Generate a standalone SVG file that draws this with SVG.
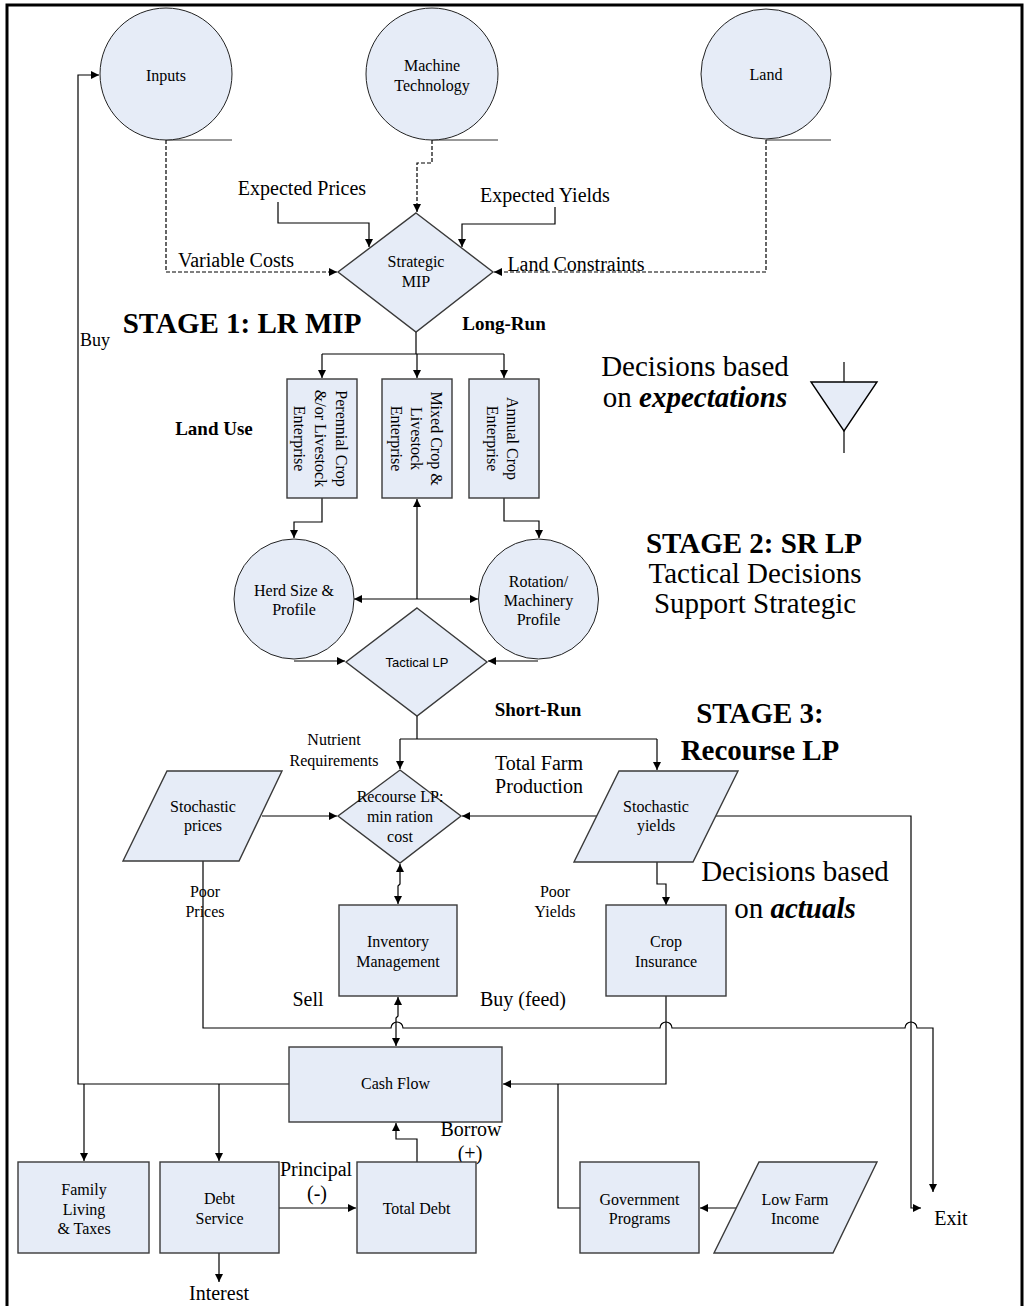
<svg xmlns="http://www.w3.org/2000/svg" width="1027" height="1306" viewBox="0 0 1027 1306">
<defs>
<marker id="ar" viewBox="0 0 10 10" refX="10" refY="5" markerWidth="9" markerHeight="8" markerUnits="userSpaceOnUse" orient="auto-start-reverse">
<path d="M0,0 L10,5 L0,10 z" fill="#000"/>
</marker>
</defs>
<style>
.nd{fill:#e6ecf7;stroke:#3a3a3a;stroke-width:1.4}
.ci{fill:#e6ecf7;stroke:#222;stroke-width:1}
.ln{fill:none;stroke:#000;stroke-width:1.2}
.ds{stroke-dasharray:4 2}
.gr{fill:none;stroke:#777;stroke-width:1.6}
text{font-family:"Liberation Serif","Times New Roman",serif;fill:#000;text-anchor:middle}
.s16{font-size:16px}
.s20{font-size:20px}
.big{font-size:29px}
.b{font-weight:bold}
.bl{font-size:19px;font-weight:bold}
.sans{font-family:"Liberation Sans",Arial,sans-serif;font-size:13px}
</style>
<rect width="1027" height="1306" fill="#fff"/>
<path d="M7,1310 V5 H1022 V1310" fill="none" stroke="#000" stroke-width="3"/>

<g id="connectors">
<path class="gr" d="M166,140 H232 M432,140 H498 M766,140 H831"/>
<path class="ln ds" d="M166,140 V272 H337" marker-end="url(#ar)"/>
<path class="ln ds" d="M432,140 V163 H417 V212" marker-end="url(#ar)"/>
<path class="ln ds" d="M766,140 V272 H494" marker-end="url(#ar)"/>
<path class="ln" d="M278,202 V223 H369 V247" marker-end="url(#ar)"/>
<path class="ln" d="M555,207 V224 H462 V247" marker-end="url(#ar)"/>
<path class="ln" d="M416,332 V354 M322,354 H504"/>
<path class="ln" d="M322,354 V378" marker-end="url(#ar)"/>
<path class="ln" d="M417,354 V378" marker-end="url(#ar)"/>
<path class="ln" d="M504,354 V378" marker-end="url(#ar)"/>
<path class="ln" d="M322,498 V522 H294 V538" marker-end="url(#ar)"/>
<path class="ln" d="M504,498 V521 H539 V538" marker-end="url(#ar)"/>
<path class="ln" d="M417,599 V499" marker-end="url(#ar)"/>
<path class="ln" d="M417,599 H354" marker-end="url(#ar)"/>
<path class="ln" d="M417,599 H478" marker-end="url(#ar)"/>
<path class="ln" d="M294,661 H345" marker-end="url(#ar)"/>
<path class="ln" d="M538,661 H488" marker-end="url(#ar)"/>
<path class="ln" d="M417,716 V739 M400,739 H657"/>
<path class="ln" d="M400,739 V769" marker-end="url(#ar)"/>
<path class="ln" d="M657,739 V770" marker-end="url(#ar)"/>
<path class="ln" d="M262,816 H337" marker-end="url(#ar)"/>
<path class="ln" d="M597,816 H462" marker-end="url(#ar)"/>
<path class="ln" d="M716,816 H911 V1208 H921" marker-end="url(#ar)"/>
<path class="ln" d="M657,862 V884 H666 V905" marker-end="url(#ar)"/>
<path class="ln" d="M400,864 V884 L398,886 V904" marker-start="url(#ar)" marker-end="url(#ar)"/>
<path class="ln" d="M398,997 V1016 L396,1018 V1046" marker-start="url(#ar)" marker-end="url(#ar)"/>
<path class="ln" d="M203,861 V1028 H391 a6,6 0 0 1 12,0 H660 a6,6 0 0 1 12,0 H905 a6,6 0 0 1 12,0 H933 V1192" marker-end="url(#ar)"/>
<path class="ln" d="M666,996 V1084 H503" marker-end="url(#ar)"/>
<path class="ln" d="M580,1208 H558 V1084"/>
<path class="ln" d="M289,1084 H78 V75 H99" marker-end="url(#ar)"/>
<path class="ln" d="M84,1084 V1161" marker-end="url(#ar)"/>
<path class="ln" d="M219,1084 V1161" marker-end="url(#ar)"/>
<path class="ln" d="M279,1208 H356" marker-end="url(#ar)"/>
<path class="ln" d="M417,1162 V1139 H396 V1123" marker-end="url(#ar)"/>
<path class="ln" d="M219,1253 V1282" marker-end="url(#ar)"/>
<path class="ln" d="M736,1208 H700" marker-end="url(#ar)"/>
<path class="ln" d="M844,362 V382 M844,431 V453"/>
</g>

<g id="inputs"><circle class="ci" cx="166" cy="74" r="66"/><text class="s16" x="166" y="81">Inputs</text></g>
<g id="machine"><circle class="ci" cx="432" cy="74" r="66"/><text class="s16" x="432" y="71">Machine</text><text class="s16" x="432" y="91">Technology</text></g>
<g id="land"><circle class="ci" cx="766" cy="74" r="65"/><text class="s16" x="766" y="80">Land</text></g>

<g id="labels-top">
<text class="s20" x="302" y="195">Expected Prices</text>
<text class="s20" x="545" y="202">Expected Yields</text>
<text class="s20" x="236" y="267">Variable Costs</text>
<text class="s20" x="576" y="271">Land Constraints</text>
</g>

<g id="strategic"><path class="nd" d="M416,213 L493,272 L416,332 L338,272 Z"/><text class="s16" x="416" y="267">Strategic</text><text class="s16" x="416" y="287">MIP</text></g>

<text class="big b" x="242" y="333">STAGE 1: LR MIP</text>
<text class="bl" x="504" y="330">Long-Run</text>
<text class="bl" x="214" y="435">Land Use</text>

<g id="perennial"><rect class="nd" x="287" y="379" width="70" height="119"/>
<g transform="translate(322,438.5) rotate(90)"><text class="s16" y="-14">Perennial Crop</text><text class="s16" y="7">&amp;/or Livestock</text><text class="s16" y="28">Enterprise</text></g></g>
<g id="mixed"><rect class="nd" x="382" y="379" width="70" height="119"/>
<g transform="translate(417,438.5) rotate(90)"><text class="s16" y="-14">Mixed Crop &amp;</text><text class="s16" y="6">Livestock</text><text class="s16" y="26">Enterprise</text></g></g>
<g id="annual"><rect class="nd" x="469" y="379" width="70" height="119"/>
<g transform="translate(504,438.5) rotate(90)"><text class="s16" y="-3">Annual Crop</text><text class="s16" y="17">Enterprise</text></g></g>

<g id="expectations-note">
<text class="big" x="695" y="376">Decisions based</text>
<text class="big" x="695" y="407">on <tspan font-weight="bold" font-style="italic">expectations</tspan></text>
<path class="nd" d="M811,382 H877 L844,431 Z" style="stroke:#000"/>
</g>

<text class="big b" x="754" y="553">STAGE 2: SR LP</text>
<text class="big" x="755" y="583">Tactical Decisions</text>
<text class="big" x="755" y="613">Support Strategic</text>

<g id="herd"><circle class="ci" cx="294" cy="599" r="60"/><text class="s16" x="294" y="596">Herd Size &amp;</text><text class="s16" x="294" y="615">Profile</text></g>
<g id="rotation"><circle class="ci" cx="538.5" cy="599" r="60"/><text class="s16" x="538.5" y="587">Rotation/</text><text class="s16" x="538.5" y="606">Machinery</text><text class="s16" x="538.5" y="625">Profile</text></g>
<g id="tactical"><path class="nd" d="M417,608 L487,662 L417,716 L346,662 Z"/><text class="sans" x="417" y="667">Tactical LP</text></g>

<text class="bl" x="538" y="716">Short-Run</text>
<text class="big b" x="760" y="723">STAGE 3:</text>
<text class="big b" x="760" y="760">Recourse LP</text>

<text class="s16" x="334" y="745">Nutrient</text>
<text class="s16" x="334" y="766">Requirements</text>
<text class="s20" x="539" y="770">Total Farm</text>
<text class="s20" x="539" y="793">Production</text>

<g id="prices"><path class="nd" d="M167,771 H282 L239,861 H123 Z"/><text class="s16" x="203" y="812">Stochastic</text><text class="s16" x="203" y="831">prices</text></g>
<g id="recourse"><path class="nd" d="M400,770 L461,816 L400,863 L338,816 Z"/><text class="s16" x="400" y="802">Recourse LP:</text><text class="s16" x="400" y="822">min ration</text><text class="s16" x="400" y="842">cost</text></g>
<g id="yields"><path class="nd" d="M619,771 H738 L693,862 H574 Z"/><text class="s16" x="656" y="812">Stochastic</text><text class="s16" x="656" y="831">yields</text></g>

<text class="s16" x="205" y="897">Poor</text>
<text class="s16" x="205" y="917">Prices</text>
<text class="s16" x="555" y="897">Poor</text>
<text class="s16" x="555" y="917">Yields</text>
<text class="big" x="795" y="881">Decisions based</text>
<text class="big" x="795" y="918">on <tspan font-weight="bold" font-style="italic">actuals</tspan></text>

<g id="inventory"><rect class="nd" x="339" y="905" width="118" height="91"/><text class="s16" x="398" y="947">Inventory</text><text class="s16" x="398" y="967">Management</text></g>
<g id="insurance"><rect class="nd" x="606" y="905" width="120" height="91"/><text class="s16" x="666" y="947">Crop</text><text class="s16" x="666" y="967">Insurance</text></g>

<text class="s20" x="308" y="1006">Sell</text>
<text class="s20" x="523" y="1006">Buy (feed)</text>
<text class="s16" x="95" y="346" style="font-size:18px">Buy</text>

<g id="cashflow"><rect class="nd" x="289" y="1047" width="213" height="75"/><text class="s16" x="395.5" y="1089">Cash Flow</text></g>

<text class="s20" x="471" y="1136">Borrow</text>
<text class="s20" x="470" y="1160">(+)</text>
<text class="s20" x="316" y="1176">Principal</text>
<text class="s20" x="317" y="1200">(-)</text>

<g id="family"><rect class="nd" x="18" y="1162" width="131" height="91"/><text class="s16" x="84" y="1195">Family</text><text class="s16" x="84" y="1215">Living</text><text class="s16" x="84" y="1234">&amp; Taxes</text></g>
<g id="debtservice"><rect class="nd" x="160" y="1162" width="119" height="91"/><text class="s16" x="219.5" y="1204">Debt</text><text class="s16" x="219.5" y="1224">Service</text></g>
<g id="totaldebt"><rect class="nd" x="357" y="1162" width="119" height="91"/><text class="s16" x="416.5" y="1214">Total Debt</text></g>
<g id="government"><rect class="nd" x="580" y="1162" width="119" height="91"/><text class="s16" x="639.5" y="1205">Government</text><text class="s16" x="639.5" y="1224">Programs</text></g>
<g id="lowfarm"><path class="nd" d="M759,1162 H877 L833,1253 H714 Z"/><text class="s16" x="795" y="1205">Low Farm</text><text class="s16" x="795" y="1224">Income</text></g>

<text class="s20" x="219" y="1300">Interest</text>
<text class="s20" x="951" y="1225">Exit</text>
</svg>
